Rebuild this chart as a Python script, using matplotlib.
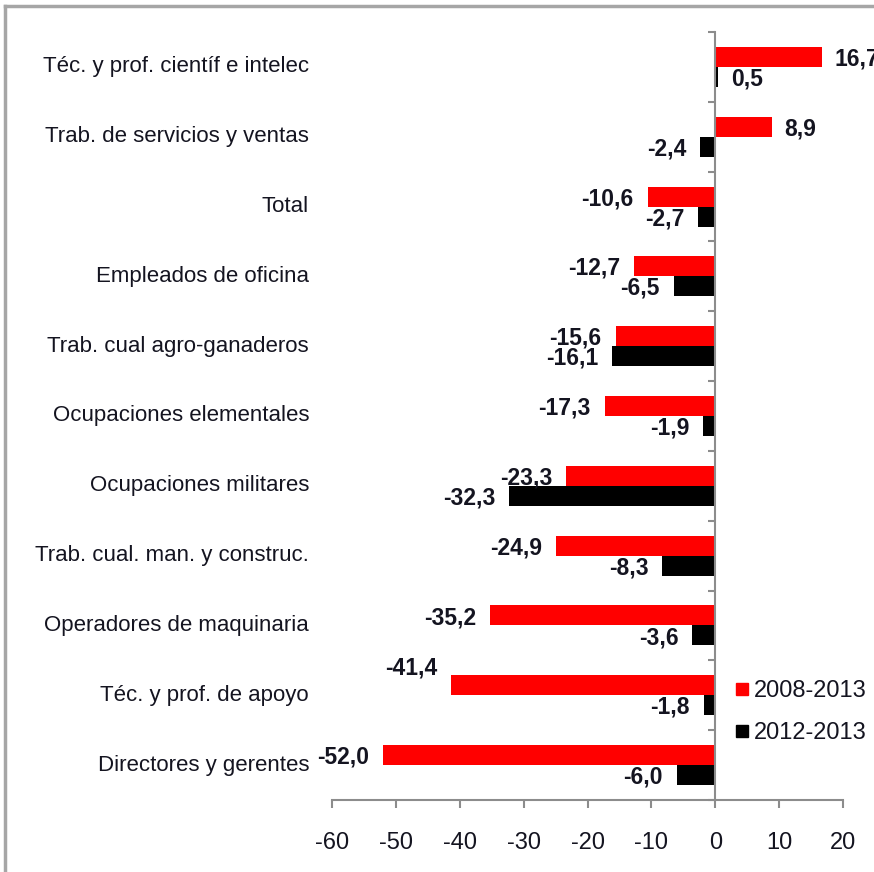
import matplotlib
matplotlib.use("Agg")
import matplotlib.pyplot as plt
from matplotlib import font_manager
from matplotlib.lines import Line2D
import numpy as np

# data, top to bottom as in the chart
categories = [
    "Téc. y prof. científ e intelec",
    "Trab. de servicios y ventas",
    "Total",
    "Empleados de oficina",
    "Trab. cual agro-ganaderos",
    "Ocupaciones elementales",
    "Ocupaciones militares",
    "Trab. cual. man. y construc.",
    "Operadores de maquinaria",
    "Téc. y prof. de apoyo",
    "Directores y gerentes",
]
var_2008_2013 = [16.7, 8.9, -10.6, -12.7, -15.6, -17.3, -23.3, -24.9, -35.2, -41.4, -52.0]
var_2012_2013 = [0.5, -2.4, -2.7, -6.5, -16.1, -1.9, -32.3, -8.3, -3.6, -1.8, -6.0]
series_names = ["2008-2013", "2012-2013"]
xticks = [-60, -50, -40, -30, -20, -10, 0, 10, 20]

installed = {f.name for f in font_manager.fontManager.ttflist}
FONT = "Liberation Sans Narrow" if "Liberation Sans Narrow" in installed else "Liberation Sans"
plt.rcParams["font.family"] = [FONT, "DejaVu Sans"]

TXT = "#141420"
AXC = "#8c8c8c"

fig = plt.figure(figsize=(8.74, 8.72), dpi=100)
ax = fig.add_axes([332 / 874, 1 - 800 / 872, 511 / 874, 768 / 872])

y = np.arange(len(categories))
h = 0.287
off = 0.143
ax.barh(y - off, var_2008_2013, height=h, color="#ff0000", label=series_names[0])
ax.barh(y + off, var_2012_2013, height=h, color="#000000", label=series_names[1])

ax.set_xlim(-60, 20)
ax.set_ylim(len(categories) - 0.5, -0.5)

# value labels
def fmt(v):
    return f"{v:.1f}".replace(".", ",")

for vals, dy in ((var_2008_2013, -off), (var_2012_2013, off)):
    for i, v in enumerate(vals):
        lift = 0
        if vals is var_2008_2013 and categories[i] == "Téc. y prof. de apoyo":
            lift = 14
        if v >= 0:
            ax.annotate(fmt(v), (v, i + dy), xytext=(9, -1.5 + lift), textcoords="offset points",
                        ha="left", va="center", fontsize=16.5, fontweight="bold", color=TXT,
                        annotation_clip=False)
        else:
            ax.annotate(fmt(v), (v, i + dy), xytext=(-10, -1.5 + lift), textcoords="offset points",
                        ha="right", va="center", fontsize=16.5, fontweight="bold", color=TXT,
                        annotation_clip=False)

# category labels to the left of the plot
for i, c in enumerate(categories):
    ax.text(-0.045, i, c, transform=ax.get_yaxis_transform(), ha="right", va="center",
            fontsize=16, color=TXT)

# axes styling
for s in ("top", "right"):
    ax.spines[s].set_visible(False)
ax.spines["left"].set_position(("data", 0))
ax.spines["left"].set_color(AXC)
ax.spines["bottom"].set_color(AXC)
ax.spines["left"].set_linewidth(1.5)
ax.spines["bottom"].set_linewidth(1.5)
ax.set_yticks(np.arange(len(categories) + 1) - 0.5)
ax.set_yticklabels([])
ax.tick_params(axis="y", direction="out", length=5, width=1.5, color=AXC)
ax.set_xticks(xticks)
ax.set_xticklabels([str(t) for t in xticks])
ax.tick_params(axis="x", direction="out", length=6, width=1.5, color=AXC,
               labelsize=17, labelcolor=TXT, pad=17)

handles = [Line2D([], [], marker="s", ls="none", color="#ff0000", markersize=9),
           Line2D([], [], marker="s", ls="none", color="#000000", markersize=9)]
ax.legend(handles, series_names, loc="upper left", bbox_to_anchor=(0.77, 0.168),
          frameon=False, fontsize=17, handlelength=0.6, handletextpad=0.2,
          labelspacing=0.85, labelcolor=TXT, borderaxespad=0)

# outer frame of the original chart area
fig.add_artist(Line2D([5 / 874, 1], [1 - 6 / 872, 1 - 6 / 872], color="#a6a6a6", lw=2.5,
                      transform=fig.transFigure))
fig.add_artist(Line2D([5 / 874, 5 / 874], [0, 1 - 6 / 872], color="#a6a6a6", lw=2.5,
                      transform=fig.transFigure))

fig.savefig("out.png", dpi=100)
